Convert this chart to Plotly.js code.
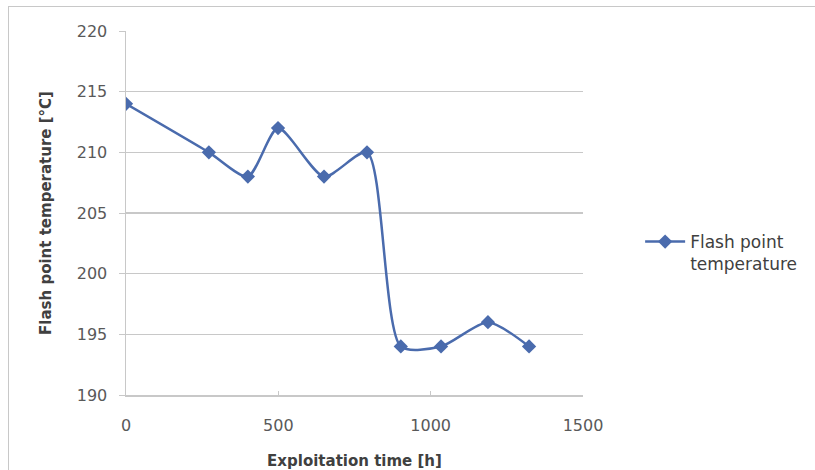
<!DOCTYPE html>
<html><head><meta charset="utf-8">
<script src="https://cdn.plot.ly/plotly-3.0.1.min.js"></script>
<style>
html,body{margin:0;padding:0;background:#fff;}
#wrap{position:relative;width:815px;height:470px;overflow:hidden;}
#chart{width:815px;height:470px;}
#frame{position:absolute;left:8px;top:6px;width:830px;height:480px;border-left:1px solid #c8c8c8;border-top:1px solid #c8c8c8;pointer-events:none;}
</style></head>
<body><div id="wrap"><div id="chart"></div><div id="frame"></div></div>
<script>
const timeHours = [0, 272, 400, 499, 650, 791, 902, 1034, 1188, 1323];
const flashPoint = [214, 210, 208, 212, 208, 210, 194, 194, 196, 194];
const seriesName = 'Flash point<br>temperature';
const xTicks = [0, 500, 1000, 1500];
const yTicks = [190, 195, 200, 205, 210, 215, 220];

const fam = '"DejaVu Sans", sans-serif';
Plotly.newPlot('chart', [{
  x: timeHours, y: flashPoint, name: seriesName,
  type: 'scatter', mode: 'lines+markers',
  line: {color: '#4A6BAD', width: 2.5, shape: 'spline', smoothing: 0.7},
  marker: {symbol: 'diamond', size: 11, color: '#4A6BAD'}
}], {
  width: 815, height: 470,
  margin: {l: 126, r: 232, t: 31, b: 75, autoexpand: false},
  paper_bgcolor: '#fff', plot_bgcolor: '#fff',
  font: {family: fam, color: '#595959', size: 16},
  showlegend: true,
  legend: {x: 1.125, y: 0.39, xanchor: 'left', yanchor: 'middle', valign: 'top', font: {family: fam, size: 17, color: '#404040'}, itemwidth: 40},
  xaxis: {
    range: [0, 1500], tickvals: xTicks, ticktext: xTicks.map(String),
    showgrid: false, zeroline: false, showline: true, linecolor: '#c8c8c8', linewidth: 1.5,
    ticks: 'inside', ticklen: 4, tickcolor: '#c8c8c8', ticklabelstandoff: 15,
    tickfont: {family: fam, size: 16, color: '#595959'},
    title: {text: '<b>Exploitation time [h]</b>', font: {family: fam, size: 15, color: '#404040'}, standoff: 23}
  },
  yaxis: {
    range: [190, 220], tickvals: yTicks, ticktext: yTicks.map(String),
    showgrid: true, gridcolor: '#c8c8c8', gridwidth: 1.5, zeroline: false,
    showline: true, linecolor: '#c8c8c8', linewidth: 1.5,
    ticks: 'outside', ticklen: 6, tickcolor: '#c8c8c8', ticklabelstandoff: 8,
    tickfont: {family: fam, size: 16, color: '#595959'},
    title: {text: '<b>Flash point temperature [°C]</b>', font: {family: fam, size: 15, color: '#404040'}, standoff: 21}
  }
}, {displayModeBar: false, staticPlot: true});
</script></body></html>
